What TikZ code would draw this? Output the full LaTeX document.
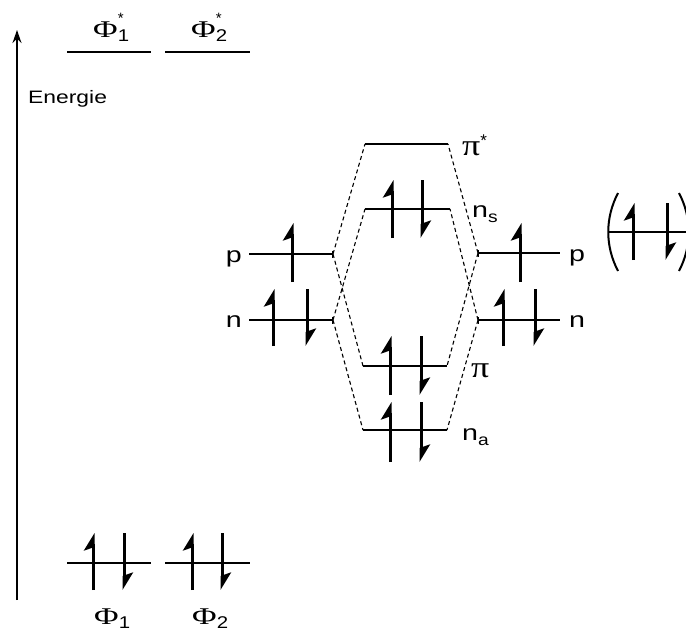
\documentclass[tikz,border=0pt]{standalone}
\usepackage{fontspec}
\setmainfont{Liberation Sans}
\newfontfamily\greekfont{Liberation Serif}
\usetikzlibrary{arrows.meta}

% text in the reference is drawn a little wider than high
\newcommand{\widen}[2]{\scalebox{#1}[1]{#2}}
\newcommand{\phiorb}[2]{\widen{1.4}{\fontsize{24}{24}\selectfont\greekfont Φ}%
  \rlap{\raisebox{14pt}{\fontsize{15}{15}\selectfont #2}}%
  \raisebox{-4pt}{\widen{1.2}{\fontsize{17}{17}\selectfont #1}}}
\newcommand{\nlevel}[1]{\widen{1.3}{n}\raisebox{-5pt}{\widen{1.2}{\fontsize{16}{16}\selectfont #1}}}

\begin{document}
\begin{tikzpicture}[
  x=1pt, y=-1pt,
  level/.style={line width=1.4pt},
  levelend/.style={level, -{Bar[width=7pt, line width=0.8pt]}},
  levelstart/.style={level, {Bar[width=7pt, line width=0.8pt]}-},
  corr/.style={line width=1.1pt, dash pattern=on 4pt off 3pt},
  spin/.style={line width=3pt, -{Stealth[harpoon, length=15pt, width=18pt, inset=3pt]}},
  paren/.style={line width=2pt},
  lbl/.style={font=\fontsize{22}{22}\selectfont, inner sep=0pt},
  greek/.style={font=\fontsize{30}{30}\selectfont\greekfont, inner sep=0pt},
  axis/.style={line width=1.5pt, -{Stealth[length=13pt, width=9pt]}}
]
\useasboundingbox (0,0) rectangle (686,632);

%% Energy axis
\coordinate (ax0) at (17,600);
\coordinate (ax1) at (17,30);
\draw[axis] (ax0) -- (ax1);
\node[inner sep=0pt, font=\fontsize{18}{18}\selectfont, anchor=base west] (energie) at (28,103) {\widen{1.27}{Energie}};

%% Phi levels (left column)
\draw[level] (67,52) -- (151,52);
\draw[level] (165,52) -- (250,52);
\node[inner sep=0pt, anchor=base west] (phi1s) at (93,37) {\phiorb{1}{*}};
\node[inner sep=0pt, anchor=base west] (phi2s) at (191,37) {\phiorb{2}{*}};

\draw[level] (67,563) -- (151,563);
\draw[level] (165,563) -- (250,563);
\draw[spin] (93,590) -- (93,533);
\draw[spin] (124,533) -- (124,590);
\draw[spin] (192,590) -- (192,533);
\draw[spin] (222,533) -- (222,590);
\node[inner sep=0pt, anchor=base west] (phi1) at (94,624) {\phiorb{1}{}};
\node[inner sep=0pt, anchor=base west] (phi2) at (192,624) {\phiorb{2}{}};

%% Left fragment
\coordinate (pl0) at (249,254);
\coordinate (pl1) at (333,254);
\coordinate (nl0) at (249,320);
\coordinate (nl1) at (333,320);
\draw[levelend] (pl0) -- (pl1);
\draw[levelend] (nl0) -- (nl1);
\node[lbl, anchor=base east] (pleft) at (242,262) {\widen{1.3}{p}};
\node[lbl, anchor=base east] (nleft) at (242,327) {\widen{1.3}{n}};
\draw[spin] (292,282) -- (292,223);
\draw[spin] (273,346) -- (273,289);
\draw[spin] (307,289) -- (307,346);

%% Right fragment
\coordinate (pr0) at (478,253);
\coordinate (pr1) at (560,253);
\coordinate (nr0) at (478,320);
\coordinate (nr1) at (560,320);
\draw[levelstart] (pr0) -- (pr1);
\draw[levelstart] (nr0) -- (nr1);
\node[lbl, anchor=base west] (pright) at (569,261) {\widen{1.3}{p}};
\node[lbl, anchor=base west] (nright) at (569,327) {\widen{1.3}{n}};
\draw[spin] (520,282) -- (520,223);
\draw[spin] (503,346) -- (503,289);
\draw[spin] (535,289) -- (535,346);

%% Molecular levels
\coordinate (pis0) at (365,144);
\coordinate (pis1) at (448,144);
\coordinate (ns0) at (365,209);
\coordinate (ns1) at (450,209);
\coordinate (pi0) at (363,366);
\coordinate (pi1) at (447,366);
\coordinate (na0) at (363,430);
\coordinate (na1) at (447,430);
\draw[level] (pis0) -- (pis1);
\draw[level] (ns0) -- (ns1);
\draw[level] (pi0) -- (pi1);
\draw[level] (na0) -- (na1);
\node[greek, anchor=base west] (pistar) at (462,155) {\widen{1.2}{π}\raisebox{9pt}{\fontsize{17}{17}\selectfont\rmfamily *}};
\node[lbl, anchor=base west] (nsym) at (472,217) {\nlevel{s}};
\node[greek, anchor=base west] (pibond) at (471,377) {\widen{1.2}{π}};
\node[lbl, anchor=base west] (nanti) at (462,440) {\nlevel{a}};
\draw[spin] (392,238) -- (392,180);
\draw[spin] (422,180) -- (422,238);
\draw[spin] (390,395) -- (390,336);
\draw[spin] (421,336) -- (421,395);
\draw[spin] (390,462) -- (390,402);
\draw[spin] (421,402) -- (421,462);

%% Correlation lines
\draw[corr] (pl1) -- (pis0);
\draw[corr] (pl1) -- (pi0);
\draw[corr] (nl1) -- (ns0);
\draw[corr] (nl1) -- (na0);
\draw[corr] (pr0) -- (pis1);
\draw[corr] (pr0) -- (pi1);
\draw[corr] (nr0) -- (ns1);
\draw[corr] (nr0) -- (na1);

%% Lone pair in brackets
\draw[level] (608,232) -- (686,232);
\draw[spin] (633,260) -- (633,203);
\draw[spin] (667,203) -- (667,260);
\draw[paren] (618,193) .. controls (605,218) and (605,246) .. (618,271);
\draw[paren] (679,193) .. controls (692,218) and (692,246) .. (679,271);

\end{tikzpicture}
\end{document}
